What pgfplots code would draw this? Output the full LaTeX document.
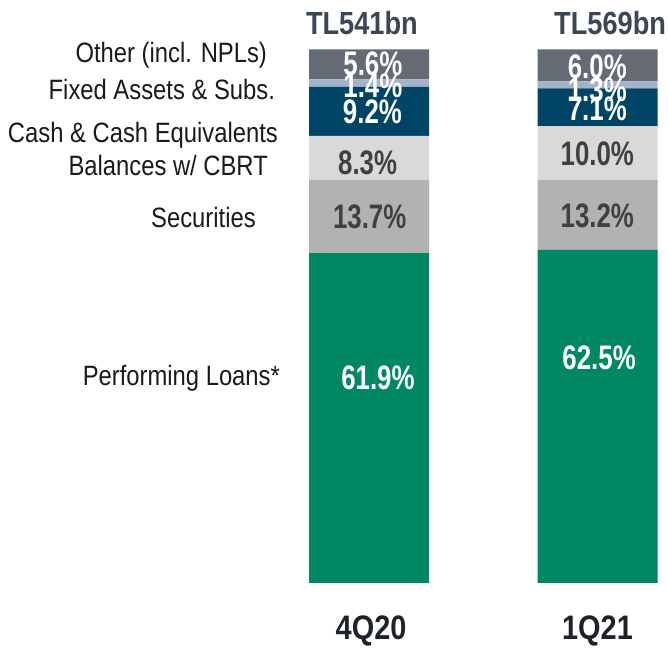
\documentclass[border=0pt]{standalone}
\usepackage{pgfplots}
\pgfplotsset{compat=1.18}
\usepackage{fontspec}
\setmainfont{Liberation Sans}
\newfontfamily\lblfont[FakeStretch=0.85]{Liberation Sans}
\newfontfamily\pctfont[FakeStretch=0.76]{Liberation Sans}
\newfontfamily\hdfont[FakeStretch=0.85]{Liberation Sans}
\definecolor{cOther}{HTML}{646B74}
\definecolor{cFixed}{HTML}{A4B4C8}
\definecolor{cCash}{HTML}{004565}
\definecolor{cCBRT}{HTML}{D9D9D9}
\definecolor{cSec}{HTML}{B2B2B2}
\definecolor{cLoans}{HTML}{008864}
\definecolor{cTL}{HTML}{3B4657}
\definecolor{cCat}{HTML}{1E2229}
\definecolor{cLbl}{HTML}{1A1A1A}
\definecolor{cDark}{HTML}{404040}
\tikzset{
  lbl/.style={font=\lblfont\fontsize{28}{30}\selectfont, text=cLbl, anchor=east, inner sep=0pt},
  pct/.style={font=\pctfont\bfseries\fontsize{34}{36}\selectfont, text=white, inner sep=0pt},
  hd/.style={font=\hdfont\bfseries\fontsize{32}{34}\selectfont, inner sep=0pt},
}
\begin{document}
\begin{tikzpicture}
\begin{axis}[
  scale only axis, width=668pt, height=647pt,
  anchor=south west, at={(0,0)},
  xmin=-1.6149, xmax=1.3085, ymin=-12.008, ymax=109.38,
  hide axis, clip=false,
  ybar stacked, bar width=120pt,
]
\addplot[fill=cLoans, draw=none] coordinates {(0,61.9) (1,62.5)};
\addplot[fill=cSec, draw=none] coordinates {(0,13.7) (1,13.2)};
\addplot[fill=cCBRT, draw=none] coordinates {(0,8.3) (1,10.0)};
\addplot[fill=cCash, draw=none] coordinates {(0,9.2) (1,7.1)};
\addplot[fill=cFixed, draw=none] coordinates {(0,1.4) (1,1.3)};
\addplot[fill=cOther, draw=none] coordinates {(0,5.6) (1,6.0)};
% anchor points for the labels
\coordinate (a1) at (axis cs:0.017,97.4);
\coordinate (a2) at (axis cs:0.017,93.2);
\coordinate (a3) at (axis cs:0.015,88.4);
\coordinate (a4) at (axis cs:-0.006,78.8);
\coordinate (a5) at (axis cs:0.003,68.7);
\coordinate (a6) at (axis cs:0.039,38.5);
\coordinate (b1) at (axis cs:0.999,96.8);
\coordinate (b2) at (axis cs:0.999,92.5);
\coordinate (b3) at (axis cs:0.999,88.9);
\coordinate (b4) at (axis cs:0.999,80.5);
\coordinate (b5) at (axis cs:0.999,68.9);
\coordinate (b6) at (axis cs:1.007,42.2);
\coordinate (t1) at (axis cs:-0.031,105.1);
\coordinate (t2) at (axis cs:1.055,105.1);
\coordinate (q1) at (axis cs:0.009,-9.0);
\coordinate (q2) at (axis cs:1.0,-9.0);
\coordinate (s1) at (axis cs:-0.446,99.1);
\coordinate (s2) at (axis cs:-0.411,92.5);
\coordinate (s3) at (axis cs:-0.398,84.05);
\coordinate (s4) at (axis cs:-0.442,78.4);
\coordinate (s5) at (axis cs:-0.495,68.5);
\coordinate (s6) at (axis cs:-0.389,38.5);
\coordinate (sw) at (rel axis cs:0,0);
\coordinate (ne) at (rel axis cs:1,1);
\end{axis}
% segment labels
\node[pct] at (a1) {5.6\%};
\node[pct] at (a2) {1.4\%};
\node[pct] at (a3) {9.2\%};
\node[pct, text=cDark] at (a4) {8.3\%};
\node[pct, text=cDark] at (a5) {13.7\%};
\node[pct] at (a6) {61.9\%};
\node[pct] at (b1) {6.0\%};
\node[pct] at (b2) {1.3\%};
\node[pct] at (b3) {7.1\%};
\node[pct, text=cDark] at (b4) {10.0\%};
\node[pct, text=cDark] at (b5) {13.2\%};
\node[pct] at (b6) {62.5\%};
% totals
\node[hd, text=cTL] at (t1) {TL541bn};
\node[hd, text=cTL] at (t2) {TL569bn};
% periods
\node[hd, text=cCat, font=\hdfont\bfseries\fontsize{34}{36}\selectfont] at (q1) {4Q20};
\node[hd, text=cCat, font=\hdfont\bfseries\fontsize{34}{36}\selectfont] at (q2) {1Q21};
% series names
\node[lbl] at (s1) {Other (incl. NPLs)};
\node[lbl] at (s2) {Fixed Assets \& Subs.};
\node[lbl] at (s3) {Cash \& Cash Equivalents};
\node[lbl] at (s4) {Balances w/ CBRT};
\node[lbl] at (s5) {Securities};
\node[lbl] at (s6) {Performing Loans*};
\pgfresetboundingbox
\path[use as bounding box] (sw) rectangle (ne);
\end{tikzpicture}
\end{document}
